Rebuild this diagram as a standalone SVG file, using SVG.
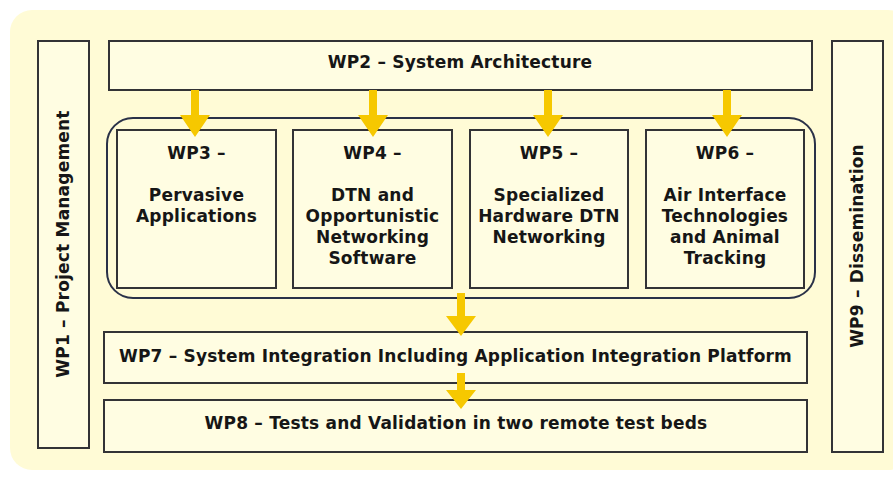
<svg xmlns="http://www.w3.org/2000/svg" width="893" height="477" viewBox="0 0 893 477">
  <style>
    .box { fill: #fffde2; stroke: #333336; stroke-width: 2; }
    .grp { fill: none; stroke: #2a3148; stroke-width: 2; }
    .t { font-family: "DejaVu Sans", Verdana, sans-serif; font-weight: bold; font-size: 17px; letter-spacing: 0.2px; fill: #161616; text-anchor: middle; }
    .arrow { fill: #f6c800; }
  </style>
  <rect x="0" y="0" width="893" height="477" fill="#ffffff"/>
  <rect x="10" y="10" width="900" height="460" rx="22" fill="#fffbd6"/>

  <g id="wp1">
    <rect class="box" x="38" y="41" width="51" height="407"/>
    <text class="t" transform="translate(69,244) rotate(-90)">WP1 – Project Management</text>
  </g>
  <g id="wp2">
    <rect class="box" x="109" y="41" width="703" height="49"/>
    <text class="t" x="460" y="68">WP2 – System Architecture</text>
  </g>
  <g id="group">
    <rect class="grp" x="107" y="118" width="708" height="180" rx="26"/>
  </g>
  <g id="wp3">
    <rect class="box" x="117" y="130" width="159" height="158"/>
    <text class="t" x="196.5" y="159">WP3 –</text>
    <text class="t" x="196.5" y="201">Pervasive</text>
    <text class="t" x="196.5" y="222">Applications</text>
  </g>
  <g id="wp4">
    <rect class="box" x="293" y="130" width="159" height="158"/>
    <text class="t" x="372.5" y="159">WP4 –</text>
    <text class="t" x="372.5" y="201">DTN and</text>
    <text class="t" x="372.5" y="222">Opportunistic</text>
    <text class="t" x="372.5" y="243">Networking</text>
    <text class="t" x="372.5" y="264">Software</text>
  </g>
  <g id="wp5">
    <rect class="box" x="470" y="130" width="158" height="158"/>
    <text class="t" x="549" y="159">WP5 –</text>
    <text class="t" x="549" y="201">Specialized</text>
    <text class="t" x="549" y="222">Hardware DTN</text>
    <text class="t" x="549" y="243">Networking</text>
  </g>
  <g id="wp6">
    <rect class="box" x="646" y="130" width="158" height="158"/>
    <text class="t" x="725" y="159">WP6 –</text>
    <text class="t" x="725" y="201">Air Interface</text>
    <text class="t" x="725" y="222">Technologies</text>
    <text class="t" x="725" y="243">and Animal</text>
    <text class="t" x="725" y="264">Tracking</text>
  </g>
  <g id="wp7">
    <rect class="box" x="104" y="332" width="703" height="51"/>
    <text class="t" x="455.5" y="362">WP7 – System Integration Including Application Integration Platform</text>
  </g>
  <g id="wp8">
    <rect class="box" x="104" y="400" width="703" height="52"/>
    <text class="t" x="456" y="429">WP8 – Tests and Validation in two remote test beds</text>
  </g>
  <g id="wp9">
    <rect class="box" x="832" y="41" width="51" height="411"/>
    <text class="t" transform="translate(863,246) rotate(-90)">WP9 – Dissemination</text>
  </g>

  <g id="connectors" class="arrow">
    <path d="M191,90 H199 V115 H210 L195,137 L180,115 H191 Z"/>
    <path d="M369,90 H377 V115 H388 L373,137 L358,115 H369 Z"/>
    <path d="M544,90 H552 V115 H563 L548,137 L533,115 H544 Z"/>
    <path d="M723,90 H731 V115 H742 L727,137 L712,115 H723 Z"/>
    <path d="M457,293 H465 V316 H476 L461,336 L446,316 H457 Z"/>
    <path d="M457,373 H465 V390 H476 L461,409 L446,390 H457 Z"/>
  </g>
</svg>
